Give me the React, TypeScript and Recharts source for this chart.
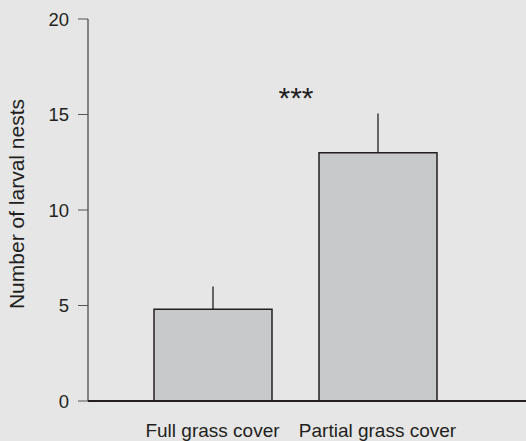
import { BarChart, Bar, XAxis, YAxis, ErrorBar, ReferenceLine } from "recharts"

const categories = ["Full grass cover", "Partial grass cover"]
const means = [4.8, 13.0]
const upperErrors = [1.2, 2.05]
const yTicks = [0, 5, 10, 15, 20]
const significance = "***"

const data = categories.map((name, i) => ({
  name,
  nests: means[i],
  err: [0, upperErrors[i]],
}))

const font = "'Liberation Sans', Arial, Helvetica, sans-serif"
const ink = "#231f20"

export default function App() {
  return (
    <div style={{ position: "fixed", left: 0, top: 0, width: 526, height: 441, background: "#e6e6e6" }}>
      <BarChart
        width={526}
        height={441}
        data={data}
        margin={{ top: 19, right: 0, left: 0, bottom: 0 }}
      >
        <XAxis
          dataKey="name"
          padding={{ left: 42, right: 66 }}
          axisLine={{ stroke: ink, strokeWidth: 2 }}
          tickLine={false}
          tickMargin={17}
          tick={{ fill: ink, fontSize: 19, fontFamily: font }}
          height={40}
        />
        <YAxis
          domain={[0, 20]}
          ticks={yTicks}
          width={88}
          axisLine={{ stroke: ink, strokeWidth: 1 }}
          tickLine={{ stroke: "#555" }}
          tickSize={10}
          tickMargin={9}
          tick={{ fill: ink, fontSize: 18.5, fontFamily: font }}
          label={{
            value: "Number of larval nests",
            angle: -90,
            position: "insideLeft",
            offset: 17,
            dy: -6,
            style: { fill: ink, fontSize: 21, fontFamily: font, textAnchor: "middle" },
          }}
        />
        <ReferenceLine
          y={16}
          stroke="none"
          label={{
            value: significance,
            position: "center",
            dx: -11,
            dy: 2,
            style: { fill: ink, fontSize: 30, fontFamily: font },
          }}
        />
        <Bar
          dataKey="nests"
          fill="#c8c9cb"
          stroke={ink}
          strokeWidth={1.5}
          barSize={118}
          isAnimationActive={false}
        >
          <ErrorBar dataKey="err" width={0} stroke={ink} strokeWidth={1.3} direction="y" />
        </Bar>
      </BarChart>
    </div>
  )
}
